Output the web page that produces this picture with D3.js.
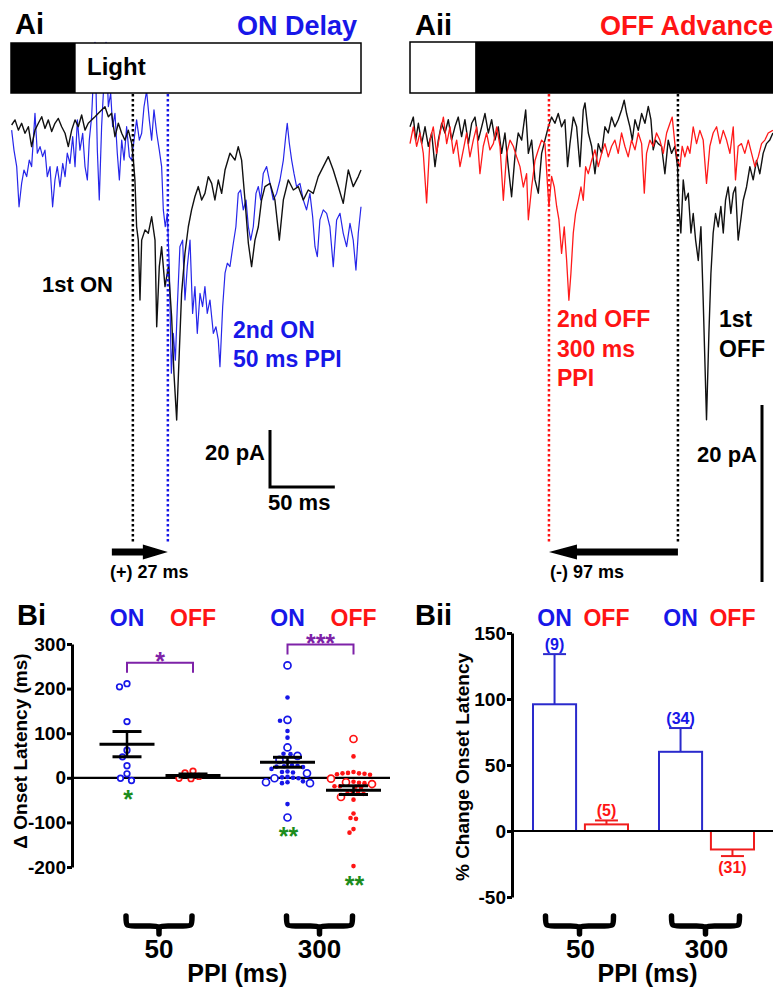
<!DOCTYPE html>
<html>
<head>
<meta charset="utf-8">
<script src="https://cdn.jsdelivr.net/npm/d3@7"></script>
<style>
  body { margin: 0; background: #fff; }
  text { font-family: "Liberation Sans", Arial, sans-serif; font-weight: bold; }
</style>
</head>
<body>
<script>
// ---------- traces: [time ms, current pA] ----------
var aiBlack = [[0.5,0],[3.1,1.8],[5.7,-1.8],[8.2,0.6],[10.8,-2.9],[13.4,-0.6],[15.9,-7.6],[18.5,-1.8],[21.1,0.6],[23.7,2.9],[26.2,-1.2],[28.8,1.8],[31.4,-2.3],[33.9,0.6],[36.5,2.3],[39.1,-0.6],[41.7,-2.9],[44.2,-7.6],[46.8,-1.8],[49.4,1.8],[51.9,-0.6],[54.5,3.5],[57.1,-1.8],[59.6,0.6],[62.2,1.8],[64.8,2.9],[67.4,4.1],[69.9,5.3],[72.5,6.4],[75.1,2.9],[77.6,4.1],[80.2,-4.1],[82.8,0.6],[85.4,-2.9],[87.9,-5.3],[90.5,-1.8],[93.1,-6.4],[94.4,-12.3],[95.6,-19.3],[96.9,-35.7],[98.2,-40.4],[99.5,-61.4],[100.8,-40.4],[103.4,-36.8],[105.9,-38],[108.5,-32.2],[111.1,-40.4],[112.4,-70.8],[114.4,-49.7],[116.2,-42.7],[118.8,-56.7],[121.4,-49.7],[123.9,-67.3],[125.7,-87.1],[127.8,-103.5],[129.8,-80.1],[131.6,-59.1],[134.2,-45],[136.8,-35.7],[139.3,-29.8],[141.9,-25.1],[144.5,-21.6],[147.1,-26.3],[149.6,-24],[152.2,-18.1],[154.8,-20.5],[157.3,-26.3],[159.9,-19.3],[162.5,-24],[165.1,-15.8],[168.9,-9.9],[172.8,-12.3],[175.3,-7.6],[177.9,-12.3],[180.5,-26.3],[183.1,-41.5],[185.6,-49.7],[188.2,-40.4],[190.8,-35.7],[193.3,-26.3],[195.9,-21.6],[199.8,-20.5],[203.6,-26.3],[207,-40.4],[210.1,-26.3],[213.9,-19.3],[217.8,-22.8],[221.6,-21.6],[225.5,-26.3],[229.3,-22.8],[233.2,-24],[237,-18.1],[240.9,-14.6],[244.8,-11.1],[248.6,-15.8],[252.5,-21.6],[256.3,-27.5],[260.2,-15.8],[264,-21.6],[267.9,-18.1],[270,-15.8]];

var aiBlue = [[0.5,-1.8],[2.3,-8.8],[4.4,-14.6],[6.2,-28.7],[8.2,-20.5],[10,-15.8],[12.1,-18.1],[14.1,-12.3],[15.9,-14.6],[17.2,-5.3],[18.5,4.1],[20.3,-9.9],[22.4,-7.6],[24.4,-11.1],[26.2,-8.8],[28,-18.1],[30.1,-14.6],[32.1,-28.7],[33.9,-19.3],[35.7,-14.6],[37.8,-21.6],[39.9,-13.5],[41.7,-18.1],[43.4,-9.9],[45.5,-13.5],[47.6,-4.1],[49.4,-14.6],[51.2,1.8],[53.2,-8.8],[55.3,-2.9],[57.1,-14.6],[58.9,-19.3],[60.4,-5.3],[62.2,2.9],[64.8,29],[66.6,-8.8],[68.1,-26.3],[69.9,-0.6],[73.3,29],[75.1,6.4],[76.9,11.1],[78.4,-0.6],[80.2,4.1],[82,-9.9],[83.6,-19.3],[85.4,-5.3],[87.2,-12.3],[89.2,-0.6],[91.3,-11.1],[93.1,-12.3],[94.9,-5.3],[96.9,1.8],[99,-5.3],[100.8,-2.9],[102.6,6.4],[104.6,12],[106.7,1.8],[108.5,-5.3],[110.3,5.3],[112.4,-2.9],[114.4,-8.8],[116.2,-14.6],[117.5,-29.8],[119,-35.7],[120.6,-31],[122.1,-49.7],[123.7,-87.1],[125.2,-73.1],[126.8,-82.5],[128.3,-63.7],[130.3,-42.7],[132.4,-40.4],[134.2,-61.4],[136,-49.7],[138.1,-40.4],[140.1,-66.1],[141.9,-56.7],[143.7,-73.1],[145.8,-59.1],[147.8,-63.7],[149.6,-56.7],[151.4,-66.1],[153.5,-61.4],[156.1,-73.1],[158.1,-70.8],[159.9,-75.4],[161.2,-84.8],[163.3,-63.7],[165.1,-52],[166.9,-48.5],[168.9,-49.7],[171.5,-41.5],[173.5,-35.7],[175.3,-24],[177.1,-22.8],[179.2,-29.8],[181.3,-26.3],[183.1,-35.7],[184.9,-40.4],[186.9,-35.7],[189,-24],[190.8,-21.6],[192.6,-26.3],[194.6,-17],[197.2,-14.6],[199.8,-20.5],[202.3,-26.3],[204.9,-24],[207.5,-19.3],[210.1,-12.3],[211.9,-4.1],[213.1,0.6],[214.7,-6.4],[216.5,-12.3],[218.3,-17],[220.3,-21.6],[222.9,-20.5],[225.5,-26.3],[228,-29.8],[230.6,-24],[232.7,-32.2],[234.5,-42.7],[236.3,-46.2],[238.3,-33.3],[240.9,-29.8],[243.5,-31],[246,-35.7],[248.6,-49.7],[251.2,-33.3],[253.8,-31],[256.3,-38],[258.9,-42.7],[261.5,-34.5],[264,-40.4],[266.1,-50.9],[267.9,-38],[270,-28.7]];

var aiiBlack = [[0,0.7],[2.5,1.8],[4.3,-0.8],[6.3,1.1],[8.8,-1.2],[11.3,0.7],[13.8,-1.5],[16.3,0],[18.8,-3.8],[21.3,-0.8],[23.8,1.1],[26.3,0],[28.8,1.5],[31.3,-0.8],[33.8,0.7],[36.3,1.8],[38.8,-0.4],[41.3,1.5],[43.9,-1.2],[46.4,1.1],[48.9,1.8],[51.4,-0.8],[53.9,0.7],[56.4,2.2],[58.9,0],[61.4,1.5],[63.9,-0.8],[66.4,0.7],[68.9,-2.3],[71.4,0],[73.9,-3.8],[76.4,-7.2],[78.9,-2.7],[81.4,0],[84,-0.8],[87,2.6],[89,-2.3],[91.5,-0.8],[94,-5.3],[96.5,-6.8],[99,-2.3],[101.5,-0.8],[104,0.7],[106.5,1.8],[109,1.1],[111.5,2.2],[114,0.7],[116.5,1.5],[118.5,-3.8],[120.3,-1.2],[122.8,1.8],[125.3,0.7],[127.8,-3.8],[130.3,2.6],[131.6,3.4],[134.1,0],[136.6,-1.5],[139.1,-4.6],[141.6,-1.2],[144.1,-2.3],[146.6,0.7],[149.1,0],[151.6,1.8],[154.1,0.7],[156.6,1.5],[159.1,2.6],[161.1,3.7],[162.9,2.2],[165.4,0.7],[167.2,-0.8],[169.2,1.5],[171.7,0.3],[174.2,2.2],[176.7,1.1],[179.2,3],[181.2,1.5],[182.9,-1.9],[184.7,-0.8],[186.7,-1.2],[189.2,-1.5],[191.7,-4.6],[194.2,-0.8],[196.7,-2.3],[199.2,-1.5],[201.2,-3.8],[202.2,-8.3],[203.7,-11.3],[205.5,-5.3],[207.2,-7.6],[209.3,-6.8],[211.3,-11.3],[213,-9.1],[214.8,-12.1],[216.8,-14.4],[218.8,-10.6],[220.5,-18.9],[223,-32.4],[224.8,-22.6],[226.3,-15.9],[228,-11.3],[229.8,-9.1],[231.8,-10.6],[233.8,-8.3],[235.6,-11.3],[237.3,-7.6],[239.3,-6.1],[241.3,-9.1],[243.1,-6.8],[244.8,-6.1],[246.8,-12.1],[248.8,-9.8],[250.6,-7.6],[253.1,-6.1],[255.6,-3.8],[258.1,-5.3],[260.6,-3.1],[263.1,-4.6],[265.6,-2.3],[268.1,-1.2],[270.6,-0.8],[272.9,0]];

var aiiRed = [[0,-1.2],[2.5,0.7],[5,-1.5],[7.5,0],[10,-2.3],[12.5,-7.9],[15,-0.8],[17.5,0.7],[20,-2.3],[22.6,0],[25.1,1.8],[27.6,-1.2],[30.1,0.7],[32.6,-2.3],[35.1,-0.8],[37.6,-3.8],[40.1,-1.9],[42.6,0],[45.1,-2.7],[47.6,-0.8],[50.1,0.7],[52.6,-4.6],[55.1,-1.5],[57.6,0],[60.1,-1.9],[62.7,-1.2],[65.2,0.7],[67.7,-1.5],[70.2,-7.6],[72.7,-2.3],[75.2,-0.8],[77.7,-1.5],[80.2,-2.7],[82.7,-3.8],[85.2,-6.1],[87.7,-4.6],[89,-9.8],[91.5,-6.1],[94,-3.1],[96.5,-1.9],[99,-0.8],[101.5,-1.2],[103.5,-6.1],[104.5,-8.3],[106.5,-4.9],[108.5,-6.1],[110.3,-8.3],[112,-9.8],[114,-13.6],[116,-10.6],[117.8,-14.4],[119.5,-18.9],[121,-15.9],[122.8,-11.3],[124.5,-9.1],[126.6,-7.6],[128.6,-6.1],[130.3,-7.6],[132.1,-3.8],[134.1,-4.6],[136.6,-3.1],[139.1,-1.9],[141.6,-3.8],[144.1,-2.3],[146.6,-1.2],[149.1,-2.7],[151.6,-1.5],[154.1,-0.8],[156.6,-2.3],[159.1,0],[161.6,-1.5],[164.1,-2.7],[166.6,-0.8],[169.2,-1.9],[171.7,0],[174.2,-1.2],[176.2,-6.8],[177.9,-2.3],[180.4,-0.8],[182.9,-1.5],[185.4,0],[187.9,-0.8],[190.5,-2.3],[193,0],[195.5,1.1],[197.2,1.8],[199.2,-1.2],[201.2,-3.1],[203,-3.8],[204.7,-1.5],[206.7,-2.7],[208.8,-1.5],[210.5,-2.3],[213,0.7],[215.5,-1.2],[218,0.3],[220.5,-0.8],[223,-5.7],[225.5,-1.5],[228,0],[230.6,0.7],[233.1,-1.2],[235.6,0.3],[238.1,-0.8],[240.6,-2.3],[243.1,0.7],[244.8,-5.3],[246.8,-1.5],[249.3,-1.2],[251.8,-2.3],[254.4,-0.8],[256.9,-2.3],[259.4,-3.8],[261.9,-2.7],[264.4,-1.2],[266.9,-0.8],[269.4,0],[272.9,0.3]];

var stimAi = [0, 50, 270];      // dark until 50 ms, then light
var stimAii = [0, 49, 273];     // light until 49 ms, then dark
var onsetOn = [94, 121];        // 1st ON, 2nd ON (ms)
var onsetOff = [201.5, 104.5];  // 1st OFF, 2nd OFF (ms)

// ---------- scatter Bi: change in onset latency (ms) ----------
var ppiLabels = ['50', '300'];
var condLabels = ['ON', 'OFF'];
var on50Open = [204, 211, 126, 62, 47, 27, 9, -6, -1];
var off50Open = [15, 3, -2, -1, 11];
var on300Open = [252, 130, 68, 49, 40, 10, -1, -10, -12, -89];
var on300Filled = [180, 128, 105, 90, 54, 53, 35, 28, 27, 26, 25, 24, 20, 14, 13, 12, 2, 1, 0, -1, -8, -10, -12, -59];
var off300Open = [87, -2, -10, -14, -43];
var off300Filled = [48, 13, 11, 10, 10, 9, 8, 7, -9, -11, -12, -19, -19, -20, -22, -30, -33, -35, -36, -49, -80, -90, -92, -115, -123, -198];
var biTicks = [-200, -100, 0, 100, 200, 300];
var sigLabels = ['*', '***'];
var greenStars = ['*', '', '**', '**'];

// ---------- bars Bii: % change onset latency ----------
var pctMean = [96, 5, 60, -14];
var pctSem = [38, 3, 18, 5];
var biiTicks = [-50, 0, 50, 100, 150];

var blue = '#1717e8', red = '#ff1414', purple = '#7e22a8', green = '#1c8c1c';

var svg = d3.select('body').append('svg').attr('width', 773).attr('height', 988);
svg.append('rect').attr('width', 773).attr('height', 988).attr('fill', '#fff');

function label(x, y, txt, size, color, anchor) {
  return svg.append('text').attr('x', x).attr('y', y)
    .attr('font-size', size).attr('fill', color || '#000')
    .attr('text-anchor', anchor || 'start').text(txt);
}

function trace(data, line, color, w) {
  svg.append('path').datum(data).attr('d', line)
    .attr('fill', 'none').attr('stroke', color).attr('stroke-width', w)
    .attr('stroke-linejoin', 'round');
}

function dotted(x, color) {
  svg.append('line').attr('x1', x).attr('x2', x).attr('y1', 94).attr('y2', 542)
    .attr('stroke', color).attr('stroke-width', 2.5).attr('stroke-dasharray', '2.5,2.5');
}

function arrow(x0, x1, y, head) {
  var dir = x1 > x0 ? 1 : -1, xh = x1 - dir * head;
  svg.append('path')
    .attr('d', 'M' + x0 + ',' + (y - 3.5) + 'L' + xh + ',' + (y - 3.5) + 'L' + xh + ',' + (y - 7.5) +
      'L' + x1 + ',' + y + 'L' + xh + ',' + (y + 7.5) + 'L' + xh + ',' + (y + 3.5) + 'L' + x0 + ',' + (y + 3.5) + 'Z')
    .attr('fill', '#000');
}

function stimBar(x, stim, y0, y1, firstDark) {
  svg.append('rect').attr('x', x(stim[0])).attr('y', y0)
    .attr('width', x(stim[1]) - x(stim[0])).attr('height', y1 - y0)
    .attr('fill', firstDark ? '#000' : '#fff');
  svg.append('rect').attr('x', x(stim[1])).attr('y', y0)
    .attr('width', x(stim[2]) - x(stim[1])).attr('height', y1 - y0)
    .attr('fill', firstDark ? '#fff' : '#000');
  svg.append('rect').attr('x', x(stim[0])).attr('y', y0)
    .attr('width', x(stim[2]) - x(stim[0])).attr('height', y1 - y0)
    .attr('fill', 'none').attr('stroke', '#000').attr('stroke-width', 1.5);
}

function brace(cx, hw, top) {
  var x0 = cx - hw, x1 = cx + hw, ym = top + 10, yb = top + 18;
  svg.append('path')
    .attr('d', 'M' + x0 + ',' + top + 'C' + x0 + ',' + ym + ' ' + x0 + ',' + ym + ' ' + (x0 + 9) + ',' + ym +
      'L' + (cx - 9) + ',' + ym + 'C' + cx + ',' + ym + ' ' + cx + ',' + ym + ' ' + cx + ',' + yb +
      'C' + cx + ',' + ym + ' ' + cx + ',' + ym + ' ' + (cx + 9) + ',' + ym +
      'L' + (x1 - 9) + ',' + ym + 'C' + x1 + ',' + ym + ' ' + x1 + ',' + ym + ' ' + x1 + ',' + top)
    .attr('fill', 'none').attr('stroke', '#000').attr('stroke-width', 5.5)
    .attr('stroke-linecap', 'round').attr('stroke-linejoin', 'round');
}

function styleAxis(g) {
  g.attr('font-size', 19);
  g.select('.domain').attr('stroke-width', 3);
  g.selectAll('.tick line').attr('stroke-width', 3);
}

// ================= Ai =================
var xAi = d3.scaleLinear().domain([0, 270]).range([11, 361]);
var yAi = d3.scaleLinear().domain([0, -100]).range([125, 410]);
var lineAi = d3.line().x(function(d) { return xAi(d[0]); }).y(function(d) { return yAi(d[1]); });

trace(aiBlue, lineAi, '#2626ea', 1.2);
trace(aiBlack, lineAi, '#111', 1.4);
stimBar(xAi, stimAi, 43, 93, true);
label(87, 75, 'Light', 24);
dotted(xAi(onsetOn[0]), '#000');
dotted(xAi(onsetOn[1]), blue);

label(15, 34, 'Ai', 29);
label(357, 35, 'ON Delay', 27, blue, 'end');
label(42, 292, '1st ON', 22);
label(233, 338, '2nd ON', 23, blue);
label(233, 367, '50 ms PPI', 23, blue);

// scale bar: 20 pA, 50 ms
var sbX = 270, sbY = 487;
svg.append('path')
  .attr('d', 'M' + sbX + ',' + (sbY - (yAi(-20) - yAi(0))) + 'V' + sbY + 'H' + (sbX + xAi(50) - xAi(0)))
  .attr('fill', 'none').attr('stroke', '#000').attr('stroke-width', 3);
label(265, 460, '20 pA', 22, '#000', 'end');
label(268, 510, '50 ms', 22);

arrow(xAi(onsetOn[0]) - 21, xAi(onsetOn[1]), 552, 25);
label(110, 578, '(+) ' + (onsetOn[1] - onsetOn[0]) + ' ms', 18);

// ================= Aii =================
var xAii = d3.scaleLinear().domain([0, 273]).range([410, 773]);
var yAii = d3.scaleLinear().domain([0, -20]).range([133, 310]);
var lineAii = d3.line().x(function(d) { return xAii(d[0]); }).y(function(d) { return yAii(d[1]); });

trace(aiiBlack, lineAii, '#111', 1.4);
trace(aiiRed, lineAii, '#ff1a1a', 1.3);
stimBar(xAii, stimAii, 42, 93, false);
dotted(xAii(onsetOff[0]), '#000');
dotted(xAii(onsetOff[1]), red);

label(415, 35, 'Aii', 29);
label(773, 35, 'OFF Advance', 27, red, 'end');
label(557, 327, '2nd OFF', 23, red);
label(557, 357, '300 ms', 23, red);
label(557, 386, 'PPI', 23, red);
label(719, 327, '1st', 23);
label(719, 357, 'OFF', 23);

svg.append('line').attr('x1', 762).attr('x2', 762)
  .attr('y1', 582 - (yAii(-20) - yAii(0))).attr('y2', 582)
  .attr('stroke', '#000').attr('stroke-width', 3);
label(757, 462, '20 pA', 22, '#000', 'end');

arrow(xAii(onsetOff[0]), xAii(onsetOff[1]), 552, 28);
label(550, 578, '(-) ' + Math.round(onsetOff[0] - onsetOff[1]) + ' ms', 18);

// ================= Bi =================
var yBi = d3.scaleLinear().domain([-200, 300]).range([867, 644]);
var grpBi = d3.scalePoint().domain(ppiLabels).range([160, 320.5]);
var subBi = d3.scalePoint().domain(condLabels).range([-33, 33]);

label(17, 625, 'Bi', 29);

var groups = [
  { ppi: '50', cond: 'ON', open: on50Open, filled: [], r: 2.8 },
  { ppi: '50', cond: 'OFF', open: off50Open, filled: [], r: 2.8 },
  { ppi: '300', cond: 'ON', open: on300Open, filled: on300Filled, r: 3.5 },
  { ppi: '300', cond: 'OFF', open: off300Open, filled: off300Filled, r: 3.5 }
];

function swarm(pts, cx) {
  var placed = [];
  pts.sort(function(a, b) { return b.v - a.v; }).forEach(function(p) {
    p.y = yBi(p.v);
    p.dx = 0;
    for (var k = 0; k < 120; k++) {
      var dx = (k % 2 ? -1 : 1) * Math.ceil(k / 2) * 0.5;
      var ok = placed.every(function(q) {
        var ddx = dx - q.dx, ddy = p.y - q.y, rr = p.hit + q.hit + 0.6;
        return ddx * ddx + ddy * ddy >= rr * rr;
      });
      if (ok) { p.dx = dx; break; }
    }
    p.x = cx + p.dx;
    placed.push(p);
  });
  return placed;
}

svg.append('line').attr('x1', 72).attr('x2', 390).attr('y1', yBi(0)).attr('y2', yBi(0))
  .attr('stroke', '#000').attr('stroke-width', 2.2);

groups.forEach(function(g, i) {
  var cx = grpBi(g.ppi) + subBi(g.cond);
  var color = g.cond === 'ON' ? blue : red;
  var pts = g.open.map(function(v) { return { v: v, open: true, hit: g.r + 0.8 }; })
    .concat(g.filled.map(function(v) { return { v: v, open: false, hit: 2.3 }; }));
  var all = g.open.concat(g.filled);
  swarm(pts, cx);

  svg.append('g').selectAll('circle').data(pts).enter().append('circle')
    .attr('cx', function(d) { return d.x; })
    .attr('cy', function(d) { return d.y; })
    .attr('r', function(d) { return d.open ? g.r : 2.3; })
    .attr('fill', function(d) { return d.open ? '#fff' : color; })
    .attr('stroke', color)
    .attr('stroke-width', function(d) { return d.open ? 1.7 : 0; });

  var m = d3.mean(all), sem = d3.deviation(all) / Math.sqrt(all.length);
  svg.append('line').attr('x1', cx - 27.5).attr('x2', cx + 27.5).attr('y1', yBi(m)).attr('y2', yBi(m))
    .attr('stroke', '#000').attr('stroke-width', 3);
  svg.append('line').attr('x1', cx).attr('x2', cx).attr('y1', yBi(m + sem)).attr('y2', yBi(m - sem))
    .attr('stroke', '#000').attr('stroke-width', 2.5);
  [m + sem, m - sem].forEach(function(v) {
    svg.append('line').attr('x1', cx - 14.5).attr('x2', cx + 14.5).attr('y1', yBi(v)).attr('y2', yBi(v))
      .attr('stroke', '#000').attr('stroke-width', 3);
  });

  // header ON / OFF
  label(cx, 626, g.cond, 23, color, 'middle');

  // significance vs zero
  if (greenStars[i]) {
    label(cx + 1, yBi(d3.min(all)) + 14.5 + 13.5, greenStars[i], 25, green, 'middle');
  }
});

// ON vs OFF brackets
ppiLabels.forEach(function(p, i) {
  var pair = groups.filter(function(g) { return g.ppi === p; });
  var top = yBi(d3.max(pair[0].open.concat(pair[0].filled, pair[1].open, pair[1].filled))) - 21;
  var xa = grpBi(p) + subBi('ON'), xb = grpBi(p) + subBi('OFF');
  svg.append('path').attr('d', 'M' + xa + ',' + (top + 10) + 'V' + top + 'H' + xb + 'V' + (top + 10))
    .attr('fill', 'none').attr('stroke', purple).attr('stroke-width', 2);
  label((xa + xb) / 2, top - 6 + 13.5, sigLabels[i], 25, purple, 'middle');
});

var axBi = svg.append('g').attr('transform', 'translate(72,0)')
  .call(d3.axisLeft(yBi).tickValues(biTicks).tickSize(5).tickSizeOuter(0).tickPadding(1)
    .tickFormat(function(d) { return String(d); }));
styleAxis(axBi);

svg.append('text').attr('transform', 'translate(27,751) rotate(-90)')
  .attr('font-size', 19).attr('text-anchor', 'middle').text('\u0394 Onset Latency (ms)');

ppiLabels.forEach(function(p) {
  brace(grpBi(p) - 1, 33, 916);
  label(grpBi(p) - 1, 958, p, 26, '#000', 'middle');
});
label((grpBi('50') + grpBi('300')) / 2 - 3, 982, 'PPI (ms)', 25, '#000', 'middle');

// ================= Bii =================
var yBii = d3.scaleLinear().domain([-50, 150]).range([897, 633]);
var grpBii = d3.scaleBand().domain(ppiLabels).range([533, 754]).paddingInner(0.246);
var subBii = d3.scaleBand().domain(condLabels).range([0, grpBii.bandwidth()]).paddingInner(0.17);

label(415, 625, 'Bii', 29);

groups.forEach(function(g, i) {
  var x0 = grpBii(g.ppi) + subBii(g.cond), bw = subBii.bandwidth(), cx = x0 + bw / 2;
  var color = g.cond === 'ON' ? '#2a2acc' : '#f01c1c';
  var v = pctMean[i], e = pctSem[i], n = g.open.length + g.filled.length;
  svg.append('rect').attr('x', x0).attr('width', bw)
    .attr('y', Math.min(yBii(v), yBii(0))).attr('height', Math.abs(yBii(v) - yBii(0)))
    .attr('fill', '#fff').attr('stroke', color).attr('stroke-width', 2);
  var ye = yBii(v >= 0 ? v + e : v - e);
  svg.append('line').attr('x1', cx).attr('x2', cx).attr('y1', yBii(v)).attr('y2', ye)
    .attr('stroke', color).attr('stroke-width', 2);
  svg.append('line').attr('x1', cx - 11.5).attr('x2', cx + 11.5).attr('y1', ye).attr('y2', ye)
    .attr('stroke', color).attr('stroke-width', 2);
  label(cx, v >= 0 ? ye - 4 : ye + 17, '(' + n + ')', 16, g.cond === 'ON' ? blue : red, 'middle');
  label(cx, 626, g.cond, 23, g.cond === 'ON' ? blue : red, 'middle');
});

svg.append('line').attr('x1', 512).attr('x2', 773).attr('y1', yBii(0)).attr('y2', yBii(0))
  .attr('stroke', '#000').attr('stroke-width', 2.2);

var axBii = svg.append('g').attr('transform', 'translate(512,0)')
  .call(d3.axisLeft(yBii).tickValues(biiTicks).tickSize(5).tickSizeOuter(0).tickPadding(1)
    .tickFormat(function(d) { return String(d); }));
styleAxis(axBii);

svg.append('text').attr('transform', 'translate(469,767) rotate(-90)')
  .attr('font-size', 19).attr('text-anchor', 'middle').text('% Change Onset Latency');

ppiLabels.forEach(function(p) {
  var c = grpBii(p) + grpBii.bandwidth() / 2;
  brace(c - 1, 34, 916);
  label(c, 958, p, 26, '#000', 'middle');
});
label((grpBii('50') + grpBii('300') + grpBii.bandwidth()) / 2 + 4, 982, 'PPI (ms)', 25, '#000', 'middle');
</script>
</body>
</html>
